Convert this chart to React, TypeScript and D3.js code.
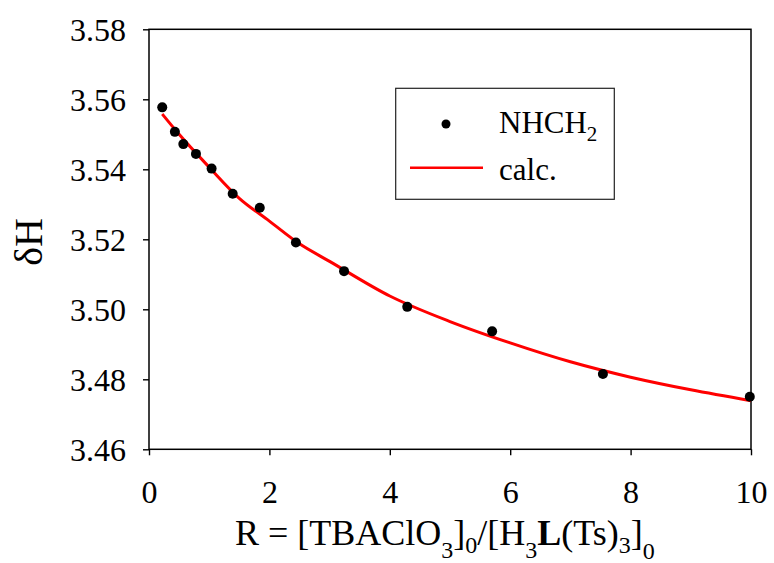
// Chemical shift of the NHCH2 proton vs. titration ratio R, with the fitted curve
import React, { useEffect, useRef } from 'react';
import * as d3 from 'd3';

// observed points
const obsR = [0.22, 0.43, 0.57, 0.78, 1.04, 1.39, 1.84, 2.44, 3.24, 4.29, 5.70, 7.54, 9.98];
const obsDH = [3.5577, 3.5507, 3.5472, 3.5444, 3.5402, 3.5330, 3.5290, 3.5191, 3.5109, 3.5007, 3.4937, 3.4815, 3.4750];

// calculated curve
const calcR = [0.22, 0.5, 1.0, 1.5, 2.0, 2.5, 3.0, 4.0, 5.0, 6.0, 7.0, 8.0, 9.0, 10.0];
const calcDH = [3.5558, 3.5500, 3.5406, 3.5317, 3.5252, 3.5187, 3.5137, 3.5038, 3.4965, 3.4904, 3.4850, 3.4806, 3.4770, 3.4739];

const xTicks = [0, 2, 4, 6, 8, 10];
const yTicks = [3.46, 3.48, 3.50, 3.52, 3.54, 3.56, 3.58];

const W = 774, H = 563;
const left = 149, right = 751, top = 29.3, bottom = 449.3;
const FONT = '"Liberation Serif", "Times New Roman", serif';

export default function App() {
  const ref = useRef<SVGSVGElement>(null);

  useEffect(() => {
    document.body.style.margin = '0';
    const svg = d3.select(ref.current);
    svg.selectAll('*').remove();

    const x = d3.scaleLinear().domain([0, 10]).range([left, right]);
    const y = d3.scaleLinear().domain([3.46, 3.58]).range([bottom, top]);

    // x axis
    const gx = svg.append('g')
      .attr('transform', `translate(0,${bottom})`)
      .call(d3.axisBottom(x).tickValues(xTicks).tickSize(6).tickSizeOuter(0).tickFormat(d3.format('d')));
    gx.selectAll('text').attr('y', 54).attr('dy', null)
      .attr('font-size', 32).attr('font-family', FONT).attr('fill', '#000');

    // y axis
    const gy = svg.append('g')
      .attr('transform', `translate(${left},0)`)
      .call(d3.axisLeft(y).tickValues(yTicks).tickSize(6).tickSizeOuter(0).tickFormat(d3.format('.2f')));
    gy.selectAll('text').attr('x', -23).attr('dy', '0.34em')
      .attr('font-size', 32).attr('font-family', FONT).attr('fill', '#000');

    svg.selectAll('.domain').remove();
    svg.selectAll('.tick line').attr('stroke', '#000').attr('stroke-width', 1.4);

    // frame
    svg.append('rect')
      .attr('x', left).attr('y', top)
      .attr('width', right - left).attr('height', bottom - top)
      .attr('fill', 'none').attr('stroke', '#000').attr('stroke-width', 1.5);

    // calc curve
    const line = d3.line<number>()
      .x((d, i) => x(calcR[i]))
      .y((d) => y(d))
      .curve(d3.curveMonotoneX);
    svg.append('path')
      .attr('d', line(calcDH))
      .attr('fill', 'none')
      .attr('stroke', '#ff0000')
      .attr('stroke-width', 3);

    // points
    svg.selectAll('.pt')
      .data(obsDH)
      .enter()
      .append('circle')
      .attr('class', 'pt')
      .attr('cx', (d, i) => x(obsR[i]))
      .attr('cy', (d) => y(d))
      .attr('r', 5)
      .attr('fill', '#000');

    // legend
    const lg = svg.append('g');
    lg.append('rect')
      .attr('x', 395.7).attr('y', 88.3).attr('width', 218.6).attr('height', 111)
      .attr('fill', '#fff').attr('stroke', '#222').attr('stroke-width', 1.2);
    lg.append('circle').attr('cx', 446).attr('cy', 124).attr('r', 4.5).attr('fill', '#000');
    lg.append('line')
      .attr('x1', 410).attr('x2', 483).attr('y1', 167.7).attr('y2', 167.7)
      .attr('stroke', '#ff0000').attr('stroke-width', 2.5);
    const t1 = lg.append('text')
      .attr('x', 499).attr('y', 133.3)
      .attr('font-family', FONT).attr('font-size', 31);
    t1.append('tspan').text('NHCH');
    t1.append('tspan').attr('font-size', 21).attr('dy', 8).text('2');
    lg.append('text')
      .attr('x', 499).attr('y', 180)
      .attr('font-family', FONT).attr('font-size', 31)
      .text('calc.');

    // y title
    svg.append('text')
      .attr('transform', 'translate(42,242) rotate(-90)')
      .attr('text-anchor', 'middle')
      .attr('font-family', FONT).attr('font-size', 40)
      .text('δH');

    // x title with subscripts
    const xt = svg.append('text')
      .attr('x', 235).attr('y', 545)
      .attr('font-family', FONT).attr('font-size', 36);
    const parts: [string, number, string?][] = [
      ['R = [TBAClO', 0], ['3', 13], [']', -13], ['0', 8], ['/[H', -8], ['3', 13],
      ['L', -13, 'bold'], ['(Ts)', 0], ['3', 8], [']', -8], ['0', 14],
    ];
    parts.forEach(([s, dy, w]) => {
      const sub = /^[03]$/.test(s);
      const ts = xt.append('tspan').attr('dy', dy).text(s);
      if (sub) ts.attr('font-size', 24);
      if (w) ts.attr('font-weight', w);
    });
  }, []);

  return (
    <svg ref={ref} width={W} height={H} style={{ display: 'block', background: '#fff' }} />
  );
}
